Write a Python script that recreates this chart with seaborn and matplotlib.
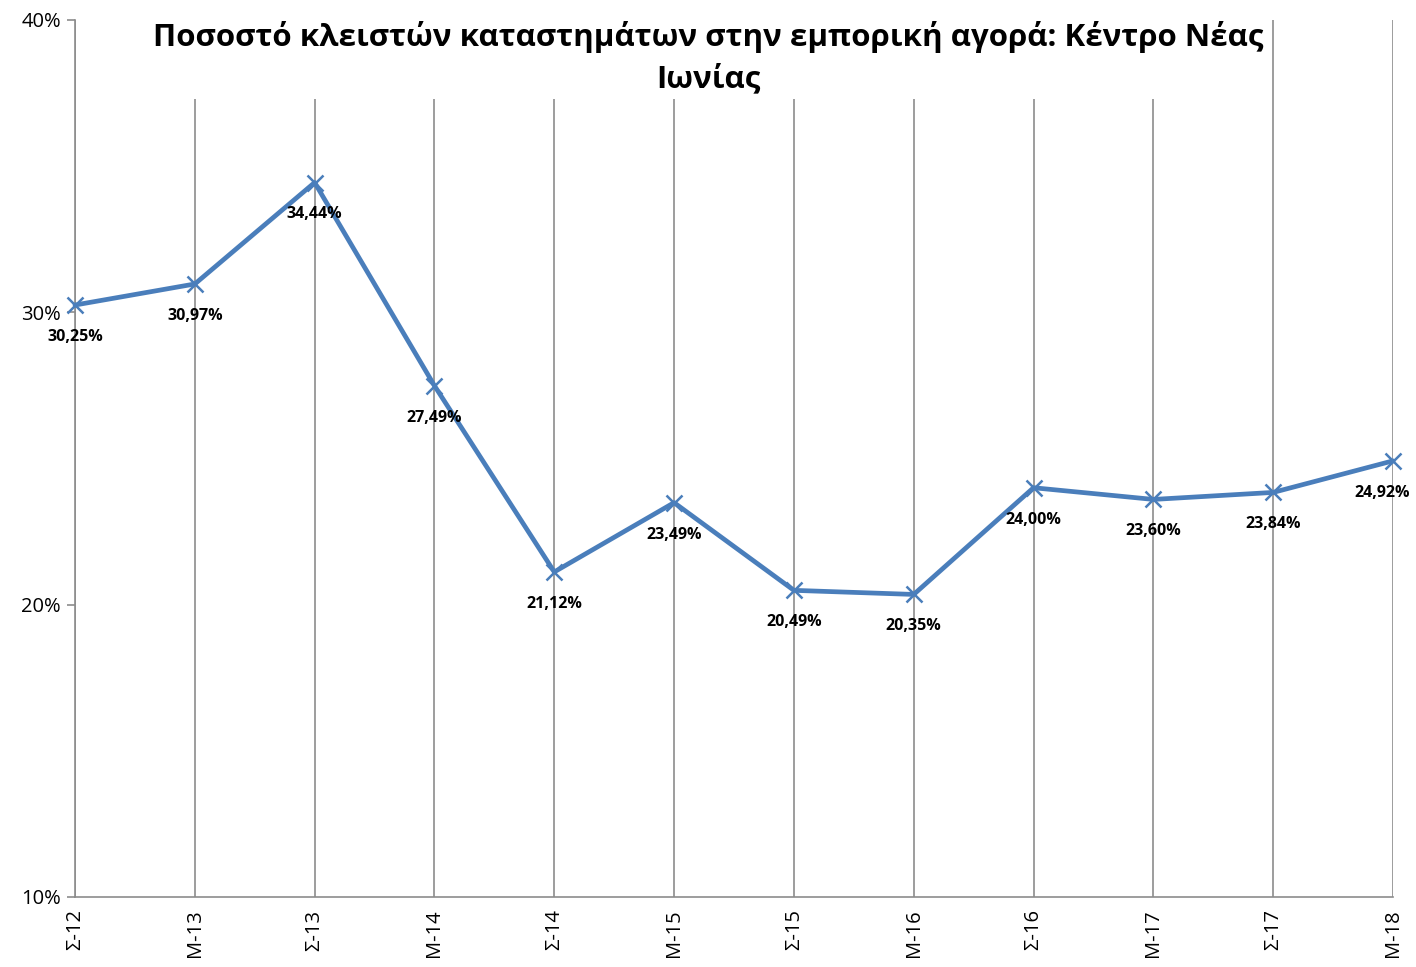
import pandas as pd
import matplotlib.pyplot as plt
import seaborn as sns
from matplotlib.ticker import FixedLocator

# données
periodes = ["Σ-12", "Μ-13", "Σ-13", "Μ-14", "Σ-14", "Μ-15", "Σ-15", "Μ-16", "Σ-16", "Μ-17", "Σ-17", "Μ-18"]
pourcentages = [30.25, 30.97, 34.44, 27.49, 21.12, 23.49, 20.49, 20.35, 24.00, 23.60, 23.84, 24.92]
titre = "Ποσοστό κλειστών καταστημάτων στην εμπορική αγορά: Κέντρο Νέας\nΙωνίας"

df = pd.DataFrame({"periode": periodes, "pct": pourcentages})

sns.set_theme(style="white")
plt.rcParams["font.family"] = ["Open Sans", "DejaVu Sans"]

fig = plt.figure(figsize=(14.16, 9.67), dpi=100)
ax = fig.add_axes([75 / 1416, 1 - 897 / 967, (1393 - 75) / 1416, (897 - 20) / 967])

sns.lineplot(data=df, x="periode", y="pct", ax=ax, color="#4A7EBB", linewidth=3.4,
             marker="x", markersize=11, markeredgewidth=1.8, markeredgecolor="#4A7EBB",
             sort=False, zorder=3, clip_on=False)

# étiquettes des valeurs (la dernière décalée pour rester dans l'image)
for i, v in enumerate(pourcentages):
    dx = -8 if i == len(pourcentages) - 1 else 0
    ax.annotate(f"{v:.2f}%".replace(".", ","), (i, v), xytext=(dx, -23),
                textcoords="offset points", ha="center", va="center",
                fontsize=11.5, fontweight="bold", color="black", zorder=4,
                annotation_clip=False)

ax.set_xlim(0, len(periodes) - 1)
ax.set_ylim(10, 40)
ax.yaxis.set_major_locator(FixedLocator([10, 20, 30, 40]))
ax.set_yticklabels(["10%", "20%", "30%", "40%"])
ax.set_xlabel("")
ax.set_ylabel("")

ax.xaxis.grid(True, color="#8c8c8c", linewidth=1.2)
ax.yaxis.grid(False)
for s in ["top", "right"]:
    ax.spines[s].set_visible(False)
for s in ["left", "bottom"]:
    ax.spines[s].set_color("#8c8c8c")
    ax.spines[s].set_linewidth(1.2)

ax.tick_params(axis="y", left=True, length=6, width=1.2, color="#8c8c8c",
               labelsize=14.5, labelcolor="black", pad=4)
ax.tick_params(axis="x", bottom=False, labelsize=14.5, labelcolor="black", rotation=90, pad=3)

ax.text(0.5, 0.978, titre, transform=fig.transFigure, ha="center", va="top",
        fontsize=22.5, fontweight="bold", color="black", linespacing=1.45,
        bbox=dict(facecolor="white", edgecolor="none", pad=3), zorder=10)

plt.savefig("out.png", dpi=100)
